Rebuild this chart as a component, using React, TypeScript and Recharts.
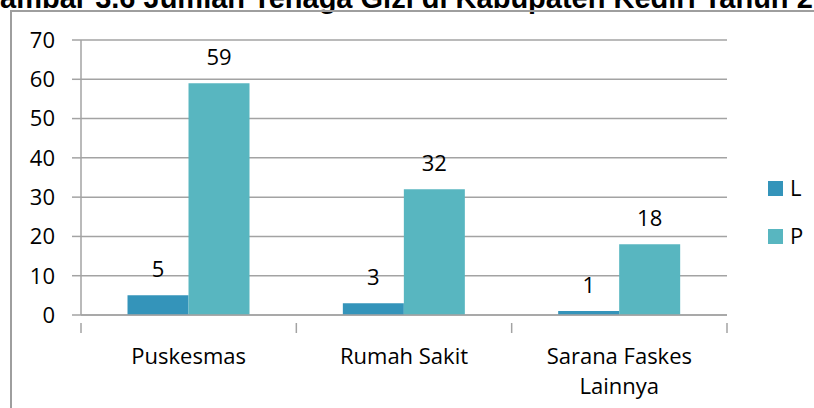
import React from 'react';
import {
  BarChart, Bar, XAxis, YAxis, CartesianGrid, LabelList,
} from 'recharts';

// data
const categories = ['Puskesmas', 'Rumah Sakit', 'Sarana Faskes Lainnya'];
const lakiLaki = [5, 3, 1];
const perempuan = [59, 32, 18];
const yTicks = [0, 10, 20, 30, 40, 50, 60, 70];

const data = categories.map((name, i) => ({ name, L: lakiLaki[i], P: perempuan[i] }));
const series = [
  { key: 'L', color: '#3494BA' },
  { key: 'P', color: '#58B6C0' },
];

const W = 814;
const H = 408;
const AXIS_W = 81;
const MARGIN = { top: 40, right: 87, left: 0, bottom: 0 };
const X_AXIS_H = H - 315;
const GRID = '#a3a3a3';
const FONT = '"Open Sans", sans-serif';

const band = (W - AXIS_W - MARGIN.right) / categories.length;

const CategoryTick = ({ x, y, payload, index }: any) => {
  const words: string[] = String(payload.value).split(' ');
  const lines = payload.value.length > 14
    ? [words.slice(0, -1).join(' '), words[words.length - 1]]
    : [payload.value];
  const left = x - band / 2;
  return (
    <g>
      <line x1={left} x2={left} y1={y} y2={y + 10} stroke={GRID} strokeWidth={1.5} />
      {index === categories.length - 1 && (
        <line x1={left + band} x2={left + band} y1={y} y2={y + 10} stroke={GRID} strokeWidth={1.5} />
      )}
      {lines.map((ln, i) => (
        <text key={i} x={x} y={y + 41 + i * 30} textAnchor="middle"
          fontFamily={FONT} fontSize={22} fill="#000">{ln}</text>
      ))}
    </g>
  );
};

export default function App() {
  return (
    <div style={{ position: 'fixed', left: 0, top: 0, width: W, height: H, overflow: 'hidden', background: '#fff' }}>
      <svg width={W} height={20} style={{ position: 'absolute', left: 0, top: 0 }}>
        <text x={-22.5} y={8} fontFamily='"Liberation Sans", Arial, sans-serif' fontWeight="bold"
          fontSize={29} fill="#000">Gambar 3.6 Jumlah Tenaga Gizi di Kabupaten Kediri Tahun 2</text>
      </svg>
      <div style={{
        position: 'absolute', left: 10, top: 10, width: W + 20, height: H + 20,
        border: '2px solid #9e9e9e', boxSizing: 'border-box',
      }} />
      <div style={{ position: 'absolute', left: 0, top: 0 }}>
        <BarChart width={W} height={H} data={data} margin={MARGIN}
          barCategoryGap="21.6%" barGap={0}>
          <CartesianGrid vertical={false} stroke={GRID} strokeWidth={1.5} />
          <XAxis dataKey="name" height={X_AXIS_H} interval={0} tickLine={false}
            axisLine={{ stroke: GRID, strokeWidth: 1.5 }} tick={<CategoryTick />} />
          <YAxis width={AXIS_W} domain={[0, 70]} ticks={yTicks} interval={0}
            axisLine={{ stroke: GRID, strokeWidth: 1.5 }}
            tickLine={{ stroke: GRID, strokeWidth: 1.5 }} tickSize={9} tickMargin={17}
            tick={{ fontFamily: FONT, fontSize: 22, fill: '#000' }} />
          {series.map((s) => (
            <Bar key={s.key} dataKey={s.key} fill={s.color} isAnimationActive={false}>
              <LabelList dataKey={s.key} position="top" offset={18}
                style={{ fontFamily: FONT, fontSize: 22, fill: '#000' }} />
            </Bar>
          ))}
        </BarChart>
      </div>
      <svg width={60} height={90} style={{ position: 'absolute', left: 760, top: 170 }}>
        {series.map((s, i) => (
          <g key={s.key}>
            <rect x={8} y={11 + i * 48} width={15} height={15} fill={s.color} />
            <text x={30} y={26 + i * 48} fontFamily={FONT} fontSize={22} fill="#000">{s.key}</text>
          </g>
        ))}
      </svg>
    </div>
  );
}
